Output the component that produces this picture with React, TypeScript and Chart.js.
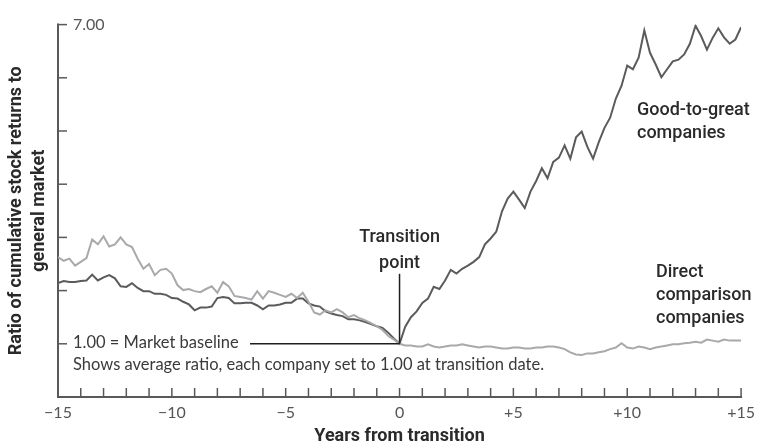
import React, { useEffect, useRef } from "react";
import { Chart, registerables } from "chart.js";

Chart.register(...registerables);

// Ratio of cumulative stock returns to market, quarterly from -15 to +15 years
const goodToGreat = [
  2.14, 2.18, 2.16, 2.16, 2.18, 2.19, 2.30, 2.19, 2.25, 2.29,
  2.23, 2.08, 2.07, 2.14, 2.05, 1.99, 1.99, 1.94, 1.94, 1.92,
  1.86, 1.85, 1.79, 1.74, 1.63, 1.68, 1.68, 1.70, 1.86, 1.88,
  1.86, 1.76, 1.76, 1.77, 1.77, 1.72, 1.65, 1.72, 1.72, 1.74,
  1.77, 1.77, 1.85, 1.85, 1.76, 1.72, 1.70, 1.61, 1.57, 1.54,
  1.52, 1.46, 1.46, 1.44, 1.41, 1.37, 1.33, 1.30, 1.21, 1.10,
  1.00,
  1.32, 1.50, 1.61, 1.77, 1.85, 2.07, 2.03, 2.19, 2.39, 2.32,
  2.41, 2.47, 2.54, 2.63, 2.87, 2.98, 3.11, 3.49, 3.73, 3.86,
  3.71, 3.55, 3.86, 4.06, 4.30, 4.11, 4.42, 4.50, 4.73, 4.48,
  4.88, 4.99, 4.70, 4.48, 4.79, 5.06, 5.25, 5.61, 5.85, 6.23,
  6.16, 6.38, 6.89, 6.47, 6.25, 6.01, 6.16, 6.31, 6.34, 6.44,
  6.64, 6.98, 6.78, 6.53, 6.75, 6.93, 6.76, 6.64, 6.72, 6.95,
];

const directComparison = [
  2.63, 2.56, 2.60, 2.47, 2.54, 2.61, 2.96, 2.87, 3.02, 2.83,
  2.87, 3.00, 2.87, 2.82, 2.60, 2.41, 2.50, 2.29, 2.39, 2.41,
  2.32, 2.10, 2.01, 2.03, 1.99, 1.97, 2.03, 2.08, 1.96, 2.16,
  2.08, 1.90, 1.88, 1.86, 1.83, 1.99, 1.85, 1.99, 1.96, 1.92,
  1.88, 1.94, 1.86, 1.96, 1.79, 1.59, 1.55, 1.63, 1.59, 1.65,
  1.59, 1.50, 1.54, 1.48, 1.44, 1.39, 1.33, 1.26, 1.15, 1.08,
  1.00,
  0.97, 0.97, 0.95, 0.95, 0.99, 0.95, 0.93, 0.95, 0.97, 0.97,
  0.99, 0.97, 0.95, 0.93, 0.95, 0.95, 0.93, 0.91, 0.91, 0.93,
  0.93, 0.91, 0.91, 0.93, 0.93, 0.95, 0.95, 0.93, 0.90, 0.84,
  0.80, 0.79, 0.82, 0.82, 0.84, 0.86, 0.90, 0.93, 1.01, 0.93,
  0.91, 0.95, 0.93, 0.90, 0.93, 0.95, 0.97, 0.99, 0.99, 1.01,
  1.02, 1.04, 1.02, 1.08, 1.06, 1.04, 1.08, 1.06, 1.06, 1.06,
];

// quarterly years from transition
const years = goodToGreat.map((_, i) => -15 + i / 4);

const xTickYears = [-15, -10, -5, 0, 5, 10, 15];
const yTickValues = [1, 2, 3, 4, 5, 6, 7];
const yTopLabel = "7.00";

const AXIS = "#58595b";
const TEXT = "#2a2a2a";

const fmtYear = (v: number) =>
  v < 0 ? "\u2212" + Math.abs(v) : v > 0 ? "+" + v : "0";

const overlay = {
  id: "overlay",
  beforeDatasetsDraw(chart: any) {
    const { ctx, chartArea, scales } = chart;
    const xs = scales.x;
    const ys = scales.y;
    ctx.save();
    ctx.strokeStyle = AXIS;
    ctx.lineWidth = 2;
    ctx.lineCap = "butt";
    ctx.beginPath();
    ctx.moveTo(chartArea.left, ys.getPixelForValue(7) - 1);
    ctx.lineTo(chartArea.left, chartArea.bottom + 1);
    ctx.stroke();
    ctx.beginPath();
    ctx.moveTo(chartArea.left - 1, chartArea.bottom);
    ctx.lineTo(chartArea.right + 1, chartArea.bottom);
    ctx.stroke();
    ctx.lineWidth = 1.5;
    yTickValues.forEach((v) => {
      const y = ys.getPixelForValue(v);
      ctx.beginPath();
      ctx.moveTo(chartArea.left, y);
      ctx.lineTo(chartArea.left + 9, y);
      ctx.stroke();
    });
    for (let t = -14; t <= 15; t++) {
      const x = xs.getPixelForValue(t);
      ctx.beginPath();
      ctx.moveTo(x, chartArea.bottom);
      ctx.lineTo(x, chartArea.bottom - 9);
      ctx.stroke();
    }
    ctx.restore();
  },
  afterDatasetsDraw(chart: any) {
    const { ctx, scales } = chart;
    const xs = scales.x;
    const ys = scales.y;
    const x0 = xs.getPixelForValue(0);
    const y1 = ys.getPixelForValue(1);
    ctx.save();
    ctx.strokeStyle = "#1e1e1e";
    ctx.lineWidth = 1.5;
    ctx.beginPath();
    ctx.moveTo(x0, y1 - 70);
    ctx.lineTo(x0, y1);
    ctx.stroke();
    ctx.beginPath();
    ctx.moveTo(250, y1);
    ctx.lineTo(x0, y1);
    ctx.stroke();

    ctx.fillStyle = TEXT;
    ctx.textBaseline = "middle";
    ctx.font = "500 18px Roboto";
    ctx.textAlign = "center";
    ctx.fillText("Transition", x0, y1 - 106);
    ctx.fillText("point", x0, y1 - 80);

    ctx.textAlign = "left";
    ctx.fillText("Good-to-great", 637, 110);
    ctx.fillText("companies", 637, 133);
    ctx.fillText("Direct", 656, 272);
    ctx.fillText("comparison", 656, 295);
    ctx.fillText("companies", 656, 318);

    ctx.fillStyle = "#3a3a3a";
    ctx.font = "400 16.5px Lato";
    ctx.fillText("1.00 = Market baseline", 73, y1 - 1);
    ctx.fillText(
      "Shows average ratio, each company set to 1.00 at transition date.",
      73,
      y1 + 21
    );
    ctx.restore();
  },
};

export default function App() {
  const ref = useRef<HTMLCanvasElement | null>(null);

  useEffect(() => {
    if (!ref.current) return;
    Chart.defaults.font.family = "Lato";
    const chart = new Chart(ref.current, {
      type: "line",
      data: {
        datasets: [
          {
            label: "Direct comparison companies",
            data: years.map((x, i) => ({ x, y: directComparison[i] })),
            borderColor: "#a7a9ac",
            borderWidth: 2,
            pointRadius: 0,
            tension: 0,
          },
          {
            label: "Good-to-great companies",
            data: years.map((x, i) => ({ x, y: goodToGreat[i] })),
            borderColor: "#5a5b5d",
            borderWidth: 2,
            pointRadius: 0,
            tension: 0,
          },
        ],
      },
      options: {
        animation: false,
        responsive: false,
        devicePixelRatio: 1,
        layout: { padding: { top: 14, right: 15, left: 0, bottom: 0 } },
        plugins: {
          legend: { display: false },
          tooltip: { enabled: false },
        },
        scales: {
          x: {
            type: "linear",
            min: -15,
            max: 15,
            afterFit: (s: any) => {
              s.height = 50;
            },
            afterBuildTicks: (s: any) => {
              s.ticks = xTickYears.map((v) => ({ value: v }));
            },
            grid: { display: false, drawTicks: false },
            border: { display: false },
            ticks: {
              autoSkip: false,
              maxRotation: 0,
              padding: 6,
              color: "#555",
              font: { family: "Lato", size: 16 },
              callback: (v: any) => fmtYear(Number(v)),
            },
            title: {
              display: true,
              text: "Years from transition",
              color: TEXT,
              font: { family: "Roboto", size: 18, weight: "bold" },
              padding: { top: 0, bottom: 0 },
            },
          },
          y: {
            type: "linear",
            min: 0,
            max: 7,
            afterFit: (s: any) => {
              s.width = 58;
            },
            grid: { display: false, drawTicks: false },
            border: { display: false },
            ticks: {
              stepSize: 1,
              mirror: true,
              padding: 15,
              color: "#555",
              font: { family: "Lato", size: 16 },
              callback: (v: any) => (Number(v) === 7 ? yTopLabel : ""),
            },
            title: {
              display: true,
              text: ["Ratio of cumulative stock returns to", "general market"],
              color: TEXT,
              font: { family: "Roboto", size: 18, weight: "bold", lineHeight: 1.28 },
              padding: { top: 5, bottom: 0 },
            },
          },
        },
      },
      plugins: [overlay],
    });
    return () => chart.destroy();
  }, []);

  return (
    <div
      style={{
        position: "fixed",
        left: 0,
        top: 0,
        width: 761,
        height: 447,
        background: "#fff",
      }}
    >
      <canvas ref={ref} width={761} height={447} style={{ width: 761, height: 447 }} />
    </div>
  );
}
